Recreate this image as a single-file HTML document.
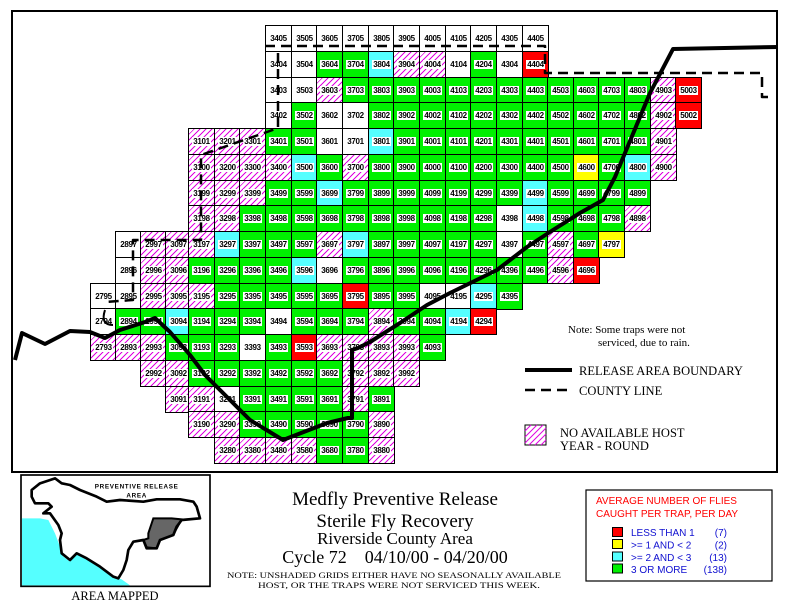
<!DOCTYPE html>
<html><head><meta charset="utf-8"><style>
*{margin:0;padding:0}
body{width:789px;height:609px;background:#fff;position:relative;overflow:hidden;font-family:"Liberation Serif",serif}
.frame{position:absolute;left:11px;top:10px;width:767px;height:463px;border:2px solid #000;box-sizing:border-box}
i{position:absolute;width:27px;height:27px;border:1px solid #000;box-sizing:border-box;display:flex;align-items:center;justify-content:center;font-style:normal;background:#fff}
i b{background:#fff;font:bold 8px/9px "Liberation Sans",sans-serif;padding:0 1px;letter-spacing:-0.3px}
.w b{background:transparent}
.g{background:#00f000}.c{background:#55ffff}.y{background:#ffff00}.r{background:#ff0000}
.h{background:repeating-linear-gradient(135deg,#fff 0 3.2px,#e000e0 3.2px 4.2px)}
.k27{left:90px}.k28{left:115px}.k29{left:140px}.k30{left:165px}.k31{left:188px}.k32{left:214px}.k33{left:239px}.k34{left:265px}.k35{left:291px}.k36{left:316px}.k37{left:342px}.k38{left:368px}.k39{left:393px}.k40{left:419px}.k41{left:445px}.k42{left:470px}.k43{left:496px}.k44{left:522px}.k45{left:547px}.k46{left:573px}.k47{left:598px}.k48{left:624px}.k49{left:650px}.k50{left:675px}
.r05{top:25px}.r04{top:51px}.r03{top:77px}.r02{top:102px}.r01{top:128px}.r00{top:154px}.r99{top:180px}.r98{top:205px}.r97{top:231px}.r96{top:257px}.r95{top:283px}.r94{top:308px}.r93{top:334px}.r92{top:360px}.r91{top:386px}.r90{top:411px}.r80{top:437px}
svg{position:absolute;left:0;top:0}
</style></head><body>
<div class="frame"></div>
<i class="w k34 r05"><b>3405</b></i><i class="w k35 r05"><b>3505</b></i><i class="w k36 r05"><b>3605</b></i><i class="w k37 r05"><b>3705</b></i><i class="w k38 r05"><b>3805</b></i><i class="w k39 r05"><b>3905</b></i><i class="w k40 r05"><b>4005</b></i><i class="w k41 r05"><b>4105</b></i><i class="w k42 r05"><b>4205</b></i><i class="w k43 r05"><b>4305</b></i><i class="w k44 r05"><b>4405</b></i>
<i class="w k34 r04"><b>3404</b></i><i class="w k35 r04"><b>3504</b></i><i class="g k36 r04"><b>3604</b></i><i class="g k37 r04"><b>3704</b></i><i class="c k38 r04"><b>3804</b></i><i class="h k39 r04"><b>3904</b></i><i class="h k40 r04"><b>4004</b></i><i class="w k41 r04"><b>4104</b></i><i class="g k42 r04"><b>4204</b></i><i class="w k43 r04"><b>4304</b></i><i class="r k44 r04"><b>4404</b></i>
<i class="w k34 r03"><b>3403</b></i><i class="w k35 r03"><b>3503</b></i><i class="h k36 r03"><b>3603</b></i><i class="g k37 r03"><b>3703</b></i><i class="g k38 r03"><b>3803</b></i><i class="g k39 r03"><b>3903</b></i><i class="g k40 r03"><b>4003</b></i><i class="g k41 r03"><b>4103</b></i><i class="g k42 r03"><b>4203</b></i><i class="g k43 r03"><b>4303</b></i><i class="g k44 r03"><b>4403</b></i><i class="g k45 r03"><b>4503</b></i><i class="g k46 r03"><b>4603</b></i><i class="g k47 r03"><b>4703</b></i><i class="g k48 r03"><b>4803</b></i><i class="h k49 r03"><b>4903</b></i><i class="r k50 r03"><b>5003</b></i>
<i class="w k34 r02"><b>3402</b></i><i class="g k35 r02"><b>3502</b></i><i class="w k36 r02"><b>3602</b></i><i class="w k37 r02"><b>3702</b></i><i class="g k38 r02"><b>3802</b></i><i class="g k39 r02"><b>3902</b></i><i class="g k40 r02"><b>4002</b></i><i class="g k41 r02"><b>4102</b></i><i class="g k42 r02"><b>4202</b></i><i class="g k43 r02"><b>4302</b></i><i class="g k44 r02"><b>4402</b></i><i class="g k45 r02"><b>4502</b></i><i class="g k46 r02"><b>4602</b></i><i class="g k47 r02"><b>4702</b></i><i class="g k48 r02"><b>4802</b></i><i class="h k49 r02"><b>4902</b></i><i class="r k50 r02"><b>5002</b></i>
<i class="h k31 r01"><b>3101</b></i><i class="h k32 r01"><b>3201</b></i><i class="h k33 r01"><b>3301</b></i><i class="g k34 r01"><b>3401</b></i><i class="g k35 r01"><b>3501</b></i><i class="w k36 r01"><b>3601</b></i><i class="w k37 r01"><b>3701</b></i><i class="c k38 r01"><b>3801</b></i><i class="g k39 r01"><b>3901</b></i><i class="g k40 r01"><b>4001</b></i><i class="g k41 r01"><b>4101</b></i><i class="g k42 r01"><b>4201</b></i><i class="g k43 r01"><b>4301</b></i><i class="g k44 r01"><b>4401</b></i><i class="g k45 r01"><b>4501</b></i><i class="g k46 r01"><b>4601</b></i><i class="g k47 r01"><b>4701</b></i><i class="g k48 r01"><b>4801</b></i><i class="h k49 r01"><b>4901</b></i>
<i class="h k31 r00"><b>3100</b></i><i class="h k32 r00"><b>3200</b></i><i class="h k33 r00"><b>3300</b></i><i class="h k34 r00"><b>3400</b></i><i class="c k35 r00"><b>3500</b></i><i class="g k36 r00"><b>3600</b></i><i class="h k37 r00"><b>3700</b></i><i class="g k38 r00"><b>3800</b></i><i class="g k39 r00"><b>3900</b></i><i class="g k40 r00"><b>4000</b></i><i class="g k41 r00"><b>4100</b></i><i class="g k42 r00"><b>4200</b></i><i class="g k43 r00"><b>4300</b></i><i class="g k44 r00"><b>4400</b></i><i class="g k45 r00"><b>4500</b></i><i class="y k46 r00"><b>4600</b></i><i class="g k47 r00"><b>4700</b></i><i class="c k48 r00"><b>4800</b></i><i class="h k49 r00"><b>4900</b></i>
<i class="h k31 r99"><b>3199</b></i><i class="h k32 r99"><b>3299</b></i><i class="h k33 r99"><b>3399</b></i><i class="g k34 r99"><b>3499</b></i><i class="g k35 r99"><b>3599</b></i><i class="c k36 r99"><b>3699</b></i><i class="g k37 r99"><b>3799</b></i><i class="g k38 r99"><b>3899</b></i><i class="g k39 r99"><b>3999</b></i><i class="g k40 r99"><b>4099</b></i><i class="g k41 r99"><b>4199</b></i><i class="g k42 r99"><b>4299</b></i><i class="g k43 r99"><b>4399</b></i><i class="c k44 r99"><b>4499</b></i><i class="g k45 r99"><b>4599</b></i><i class="g k46 r99"><b>4699</b></i><i class="g k47 r99"><b>4799</b></i><i class="g k48 r99"><b>4899</b></i>
<i class="h k31 r98"><b>3198</b></i><i class="h k32 r98"><b>3298</b></i><i class="g k33 r98"><b>3398</b></i><i class="g k34 r98"><b>3498</b></i><i class="g k35 r98"><b>3598</b></i><i class="g k36 r98"><b>3698</b></i><i class="g k37 r98"><b>3798</b></i><i class="g k38 r98"><b>3898</b></i><i class="g k39 r98"><b>3998</b></i><i class="g k40 r98"><b>4098</b></i><i class="g k41 r98"><b>4198</b></i><i class="g k42 r98"><b>4298</b></i><i class="w k43 r98"><b>4398</b></i><i class="c k44 r98"><b>4498</b></i><i class="g k45 r98"><b>4598</b></i><i class="g k46 r98"><b>4698</b></i><i class="g k47 r98"><b>4798</b></i><i class="h k48 r98"><b>4898</b></i>
<i class="w k28 r97"><b>2897</b></i><i class="h k29 r97"><b>2997</b></i><i class="h k30 r97"><b>3097</b></i><i class="h k31 r97"><b>3197</b></i><i class="c k32 r97"><b>3297</b></i><i class="g k33 r97"><b>3397</b></i><i class="g k34 r97"><b>3497</b></i><i class="g k35 r97"><b>3597</b></i><i class="h k36 r97"><b>3697</b></i><i class="c k37 r97"><b>3797</b></i><i class="g k38 r97"><b>3897</b></i><i class="g k39 r97"><b>3997</b></i><i class="g k40 r97"><b>4097</b></i><i class="g k41 r97"><b>4197</b></i><i class="g k42 r97"><b>4297</b></i><i class="w k43 r97"><b>4397</b></i><i class="g k44 r97"><b>4497</b></i><i class="h k45 r97"><b>4597</b></i><i class="g k46 r97"><b>4697</b></i><i class="y k47 r97"><b>4797</b></i>
<i class="w k28 r96"><b>2896</b></i><i class="h k29 r96"><b>2996</b></i><i class="h k30 r96"><b>3096</b></i><i class="g k31 r96"><b>3196</b></i><i class="g k32 r96"><b>3296</b></i><i class="g k33 r96"><b>3396</b></i><i class="g k34 r96"><b>3496</b></i><i class="c k35 r96"><b>3596</b></i><i class="w k36 r96"><b>3696</b></i><i class="g k37 r96"><b>3796</b></i><i class="g k38 r96"><b>3896</b></i><i class="g k39 r96"><b>3996</b></i><i class="g k40 r96"><b>4096</b></i><i class="g k41 r96"><b>4196</b></i><i class="g k42 r96"><b>4296</b></i><i class="g k43 r96"><b>4396</b></i><i class="g k44 r96"><b>4496</b></i><i class="h k45 r96"><b>4596</b></i><i class="r k46 r96"><b>4696</b></i>
<i class="w k27 r95"><b>2795</b></i><i class="w k28 r95"><b>2895</b></i><i class="h k29 r95"><b>2995</b></i><i class="h k30 r95"><b>3095</b></i><i class="h k31 r95"><b>3195</b></i><i class="g k32 r95"><b>3295</b></i><i class="g k33 r95"><b>3395</b></i><i class="g k34 r95"><b>3495</b></i><i class="g k35 r95"><b>3595</b></i><i class="g k36 r95"><b>3695</b></i><i class="r k37 r95"><b>3795</b></i><i class="g k38 r95"><b>3895</b></i><i class="g k39 r95"><b>3995</b></i><i class="w k40 r95"><b>4095</b></i><i class="w k41 r95"><b>4195</b></i><i class="c k42 r95"><b>4295</b></i><i class="g k43 r95"><b>4395</b></i>
<i class="w k27 r94"><b>2794</b></i><i class="g k28 r94"><b>2894</b></i><i class="g k29 r94"><b>2994</b></i><i class="c k30 r94"><b>3094</b></i><i class="g k31 r94"><b>3194</b></i><i class="g k32 r94"><b>3294</b></i><i class="g k33 r94"><b>3394</b></i><i class="w k34 r94"><b>3494</b></i><i class="g k35 r94"><b>3594</b></i><i class="g k36 r94"><b>3694</b></i><i class="g k37 r94"><b>3794</b></i><i class="h k38 r94"><b>3894</b></i><i class="g k39 r94"><b>3994</b></i><i class="g k40 r94"><b>4094</b></i><i class="c k41 r94"><b>4194</b></i><i class="r k42 r94"><b>4294</b></i>
<i class="h k27 r93"><b>2793</b></i><i class="h k28 r93"><b>2893</b></i><i class="h k29 r93"><b>2993</b></i><i class="g k30 r93"><b>3093</b></i><i class="g k31 r93"><b>3193</b></i><i class="g k32 r93"><b>3293</b></i><i class="w k33 r93"><b>3393</b></i><i class="g k34 r93"><b>3493</b></i><i class="r k35 r93"><b>3593</b></i><i class="h k36 r93"><b>3693</b></i><i class="h k37 r93"><b>3793</b></i><i class="h k38 r93"><b>3893</b></i><i class="h k39 r93"><b>3993</b></i><i class="g k40 r93"><b>4093</b></i>
<i class="h k29 r92"><b>2992</b></i><i class="h k30 r92"><b>3092</b></i><i class="g k31 r92"><b>3192</b></i><i class="g k32 r92"><b>3292</b></i><i class="g k33 r92"><b>3392</b></i><i class="g k34 r92"><b>3492</b></i><i class="g k35 r92"><b>3592</b></i><i class="g k36 r92"><b>3692</b></i><i class="h k37 r92"><b>3792</b></i><i class="h k38 r92"><b>3892</b></i><i class="h k39 r92"><b>3992</b></i>
<i class="h k30 r91"><b>3091</b></i><i class="h k31 r91"><b>3191</b></i><i class="w k32 r91"><b>3291</b></i><i class="g k33 r91"><b>3391</b></i><i class="g k34 r91"><b>3491</b></i><i class="g k35 r91"><b>3591</b></i><i class="g k36 r91"><b>3691</b></i><i class="h k37 r91"><b>3791</b></i><i class="g k38 r91"><b>3891</b></i>
<i class="h k31 r90"><b>3190</b></i><i class="h k32 r90"><b>3290</b></i><i class="g k33 r90"><b>3390</b></i><i class="g k34 r90"><b>3490</b></i><i class="g k35 r90"><b>3590</b></i><i class="g k36 r90"><b>3690</b></i><i class="g k37 r90"><b>3790</b></i><i class="h k38 r90"><b>3890</b></i>
<i class="h k32 r80"><b>3280</b></i><i class="h k33 r80"><b>3380</b></i><i class="h k34 r80"><b>3480</b></i><i class="h k35 r80"><b>3580</b></i><i class="g k36 r80"><b>3680</b></i><i class="g k37 r80"><b>3780</b></i><i class="h k38 r80"><b>3880</b></i>

<svg width="789" height="609" viewBox="0 0 789 609">
  <g fill="none" stroke="#000" stroke-linejoin="round">
    <polyline stroke-width="4" points="15,360 22,333 45,344 70,331 90,332 105,338 120,330 145,322 155,318 170,332 190,355 205,375 230,400 250,420 283,440 327,423 348,418 352,418 352,350 358,348 370,342 400,323 427,305 450,293 497,270 527,247 553,230 580,213 603,200 615,177 650,93 673,49 778,47"/>
    <g stroke-width="2.5" stroke-dasharray="10,6">
      <polyline points="265,46 545,46 545,73 762,73 762,97 772,97"/>
      <polyline points="278,53 278,128 267,132 201,155 201,240 133,240 133,300 105,302"/>
    </g>
    <path d="M105,310 q-5,15 8,15" stroke-width="2"/>
    <line x1="525" y1="370" x2="572" y2="370" stroke-width="4"/>
    <line x1="525" y1="390" x2="572" y2="390" stroke-width="2.5" stroke-dasharray="10,6"/>
  </g>
  <rect x="525" y="425" width="21" height="20" fill="#fff" stroke="#000" stroke-width="1"/>
  <g stroke="#e000e0" stroke-width="1">
    <line x1="525" y1="431" x2="531" y2="425"/><line x1="525" y1="437" x2="537" y2="425"/><line x1="525" y1="443" x2="543" y2="425"/><line x1="529" y1="445" x2="546" y2="428"/><line x1="535" y1="445" x2="546" y2="434"/><line x1="541" y1="445" x2="546" y2="440"/>
  </g>
  <g font-family="Liberation Serif, serif" fill="#000">
    <text x="568" y="333" font-size="11">Note: Some traps were not</text>
    <text x="598" y="346" font-size="11">serviced, due to rain.</text>
    <text x="579" y="375" font-size="12.5">RELEASE AREA BOUNDARY</text>
    <text x="579" y="395" font-size="12.5">COUNTY LINE</text>
    <text x="560" y="437" font-size="12.5">NO AVAILABLE HOST</text>
    <text x="560" y="450" font-size="12.5">YEAR - ROUND</text>
    <text x="395" y="505" font-size="19" text-anchor="middle">Medfly Preventive Release</text>
    <text x="395" y="527" font-size="19" text-anchor="middle">Sterile Fly Recovery</text>
    <text x="395" y="544" font-size="17" text-anchor="middle">Riverside County Area</text>
    <text x="395" y="563" font-size="18" text-anchor="middle">Cycle 72 &#160;&#160; 04/10/00 - 04/20/00</text>
    <text x="227" y="578" font-size="8.5" textLength="334" lengthAdjust="spacingAndGlyphs">NOTE: UNSHADED GRIDS EITHER HAVE NO SEASONALLY AVAILABLE</text>
    <text x="258" y="588" font-size="8.5" textLength="282" lengthAdjust="spacingAndGlyphs">HOST, OR THE TRAPS WERE NOT SERVICED THIS WEEK.</text>
    <text x="115" y="600" font-size="12.5" text-anchor="middle">AREA MAPPED</text>
  </g>
  <rect x="586" y="490" width="186" height="91" fill="#fff" stroke="#000" stroke-width="1.2"/>
  <g font-family="Liberation Sans, sans-serif" font-size="10">
    <text x="596" y="504" fill="#f00">AVERAGE NUMBER OF FLIES</text>
    <text x="596" y="517" fill="#f00">CAUGHT PER TRAP, PER DAY</text>
    <g fill="#1010d0">
      <text x="631" y="536">LESS THAN 1</text><text x="727" y="536" text-anchor="end">(7)</text>
      <text x="631" y="548.5">&gt;= 1 AND &lt; 2</text><text x="727" y="548.5" text-anchor="end">(2)</text>
      <text x="631" y="561">&gt;= 2 AND &lt; 3</text><text x="727" y="561" text-anchor="end">(13)</text>
      <text x="631" y="573">3 OR MORE</text><text x="727" y="573" text-anchor="end">(138)</text>
    </g>
  </g>
  <g stroke="#000" stroke-width="1">
    <rect x="612.5" y="527.5" width="10" height="9" fill="#f00"/>
    <rect x="612.5" y="539.5" width="10" height="9" fill="#ff0"/>
    <rect x="612.5" y="552" width="10" height="9" fill="#55ffff"/>
    <rect x="612.5" y="564" width="10" height="9" fill="#00f000"/>
  </g>
</svg>
<svg style="left:0;top:470px" width="260" height="139" viewBox="0 0 780 417">
  <rect x="63" y="15" width="567" height="334" fill="#fff" stroke="#000" stroke-width="5"/>
  <polygon points="66,145 120,145 145,150 165,190 180,230 190,260 210,275 230,250 255,262 300,290 340,320 365,328 390,346 66,346" fill="#55ffff"/>
  <polygon points="445,190 460,145 515,145 545,148 530,175 520,195 480,210 470,235 440,232 430,210 445,205" fill="#666" stroke="#000" stroke-width="6"/>
  <polygon fill="none" stroke="#000" stroke-width="8" stroke-linejoin="round" points="95,60 120,40 165,25 185,40 210,45 240,60 290,80 320,95 360,90 430,95 470,88 540,88 580,95 590,110 600,145 545,150 530,170 520,195 480,210 470,235 440,235 430,210 400,215 385,240 380,270 370,300 355,325 340,320 300,290 260,265 230,250 210,270 185,250 180,210 185,190 175,165 150,130 130,130 155,110 145,100 105,100 95,80"/>
  <g font-family="Liberation Sans, sans-serif" font-size="19" font-weight="bold" text-anchor="middle" letter-spacing="2">
    <text x="410" y="55">PREVENTIVE RELEASE</text>
    <text x="410" y="82">AREA</text>
  </g>
</svg>
</body></html>
